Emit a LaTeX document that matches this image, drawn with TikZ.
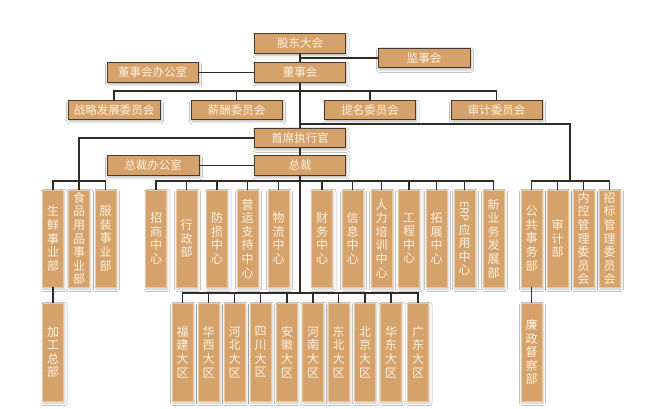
\documentclass[tikz,border=0pt]{standalone}
\usepackage{fontspec}
\usepackage{graphicx}
\setmainfont{Noto Sans CJK SC}
\usetikzlibrary{shadows.blur}
\definecolor{boxfill}{HTML}{D6A26C}
\definecolor{boxline}{HTML}{4A3A2E}
\definecolor{vline}{HTML}{E9C79E}
\definecolor{boxtext}{HTML}{FFF3DE}
\definecolor{lineclr}{HTML}{2E2B28}
\begin{document}
\begin{tikzpicture}[x=1pt,y=-1pt,
  hbox/.style={draw=boxline, line width=0.9pt, fill=boxfill, text=boxtext,
    minimum width=91pt, minimum height=19.5pt, inner sep=0pt,
    font=\fontsize{11.5}{12}\selectfont,
    blur shadow={shadow xshift=1pt, shadow yshift=-2pt, shadow blur radius=2.5pt, shadow opacity=30}},
  vbox/.style={draw=vline, line width=0.6pt, fill=boxfill, text=boxtext,
    minimum width=21pt, minimum height=97pt, inner sep=0pt, align=center,
    font=\fontsize{12}{13.6}\selectfont,
    blur shadow={shadow xshift=1pt, shadow yshift=-2pt, shadow blur radius=2.5pt, shadow opacity=22}},
  conn/.style={draw=lineclr, line width=1.2pt}]
\useasboundingbox (0,0) rectangle (663,408);
\fill[white] (0,0) rectangle (663,408);

% top level
\node[hbox] (gd) at (300,43.5) {股东大会};
\node[hbox, minimum width=92pt] (jsh) at (424,58) {监事会};
\node[hbox] (dsh) at (300,72.5) {董事会};
\node[hbox] (dsb) at (152.5,72.5) {董事会办公室};
\node[hbox, minimum width=92pt, minimum height=18.5pt] (zl) at (114,110) {战略发展委员会};
\node[hbox, minimum height=18.5pt] (xc) at (236.5,110) {薪酬委员会};
\node[hbox, minimum height=18.5pt] (tm) at (370,110) {提名委员会};
\node[hbox, minimum height=18.5pt] (sj) at (496.5,110) {审计委员会};
\node[hbox] (ceo) at (300,138) {首席执行官};
\node[hbox, minimum width=92pt] (zcb) at (153,165.5) {总裁办公室};
\node[hbox] (zc) at (300,165.5) {总裁};

% left group
\node[vbox] (sx) at (53,238.5) {生\\鲜\\事\\业\\部};
\node[vbox] (sp) at (79,238.5) {食\\品\\用\\品\\事\\业\\部};
\node[vbox] (fz) at (105.5,238.5) {服\\装\\事\\业\\部};
\node[vbox, minimum height=98pt] (jg) at (53,352) {加\\工\\总\\部};

% middle group
\node[vbox] (zs) at (156,238.5) {招\\商\\中\\心};
\node[vbox] (xz) at (186.5,238.5) {行\\政\\部};
\node[vbox] (fs) at (217,238.5) {防\\损\\中\\心};
\node[vbox] (yy) at (247.5,238.5) {营\\运\\支\\持\\中\\心};
\node[vbox] (wl) at (278.5,238.5) {物\\流\\中\\心};
\node[vbox] (cw) at (322,238.5) {财\\务\\中\\心};
\node[vbox] (xx) at (352.5,238.5) {信\\息\\中\\心};
\node[vbox] (rl) at (381.5,238.5) {人\\力\\培\\训\\中\\心};
\node[vbox] (gc) at (409,238.5) {工\\程\\中\\心};
\node[vbox] (tz) at (436.5,238.5) {拓\\展\\中\\心};
\node[vbox] (erp) at (464.5,238.5) {\rotatebox[origin=c]{-90}{\fontsize{11}{12}\selectfont ERP}\\[1pt]应\\用\\中\\心};
\node[vbox] (xyw) at (493.5,238.5) {新\\业\\务\\发\\展\\部};

% right group
\node[vbox] (gg) at (531.5,238.5) {公\\共\\事\\务\\部};
\node[vbox] (sjb) at (557.5,238.5) {审\\计\\部};
\node[vbox] (nk) at (583.5,238.5) {内\\控\\管\\理\\委\\员\\会};
\node[vbox] (zbw) at (609.5,238.5) {招\\标\\管\\理\\委\\员\\会};
\node[vbox, minimum height=98pt] (lz) at (531.5,352) {廉\\政\\督\\察\\部};

% regions
\node[vbox, minimum height=98pt] (fj) at (182.5,352) {福\\建\\大\\区};
\node[vbox, minimum height=98pt] (hx) at (208.5,352) {华\\西\\大\\区};
\node[vbox, minimum height=98pt] (hb) at (234.5,352) {河\\北\\大\\区};
\node[vbox, minimum height=98pt] (sc) at (260.5,352) {四\\川\\大\\区};
\node[vbox, minimum height=98pt] (ah) at (287,352) {安\\徽\\大\\区};
\node[vbox, minimum height=98pt] (hn) at (313,352) {河\\南\\大\\区};
\node[vbox, minimum height=98pt] (db) at (338.5,352) {东\\北\\大\\区};
\node[vbox, minimum height=98pt] (bj) at (365,352) {北\\京\\大\\区};
\node[vbox, minimum height=98pt] (hd) at (391,352) {华\\东\\大\\区};
\node[vbox, minimum height=98pt] (gdq) at (418,352) {广\\东\\大\\区};

% junction coordinates
\coordinate (bar1) at (300,91);
\coordinate (rj) at (300,124);
\coordinate (rbar) at (570,181);
\coordinate (lbar) at (79,181);
\coordinate (mbar) at (300,181);
\coordinate (bbar) at (300,293);

% connectors
\draw[conn] (gd.south) -- (dsh.north);
\draw[conn] (jsh.west) -- (jsh.west -| gd.south);
\draw[conn] (dsb.east) -- (dsh.west);
\draw[conn] (dsh.south) -- (ceo.north);
\draw[conn] (zl.north) |- (bar1) -| (sj.north);
\draw[conn] (xc.north) |- (bar1);
\draw[conn] (tm.north) |- (bar1);
\draw[conn] (rj) -| (rbar);
\draw[conn] (gg.north) |- (rbar) -| (zbw.north);
\draw[conn] (sjb.north) |- (rbar);
\draw[conn] (nk.north) |- (rbar);
\draw[conn] (gg.south) -- (lz.north);
\draw[conn] (ceo.west) -| (sp.north);
\draw[conn] (sx.north) |- (lbar) -| (fz.north);
\draw[conn] (sx.south) -- (jg.north);
\draw[conn] (zcb.east) -- (zc.west);
\draw[conn] (ceo.south) -- (zc.north);
\draw[conn] (zs.north) |- (mbar) -| (xyw.north);
\foreach \n in {xz,fs,yy,wl,cw,xx,rl,gc,tz,erp} \draw[conn] (\n.north) |- (mbar);
\draw[conn] (zc.south) -- (bbar);
\draw[conn] (fj.north) |- (bbar) -| (gdq.north);
\foreach \n in {hx,hb,sc,ah,hn,db,bj,hd} \draw[conn] (\n.north) |- (bbar);
\end{tikzpicture}
\end{document}
